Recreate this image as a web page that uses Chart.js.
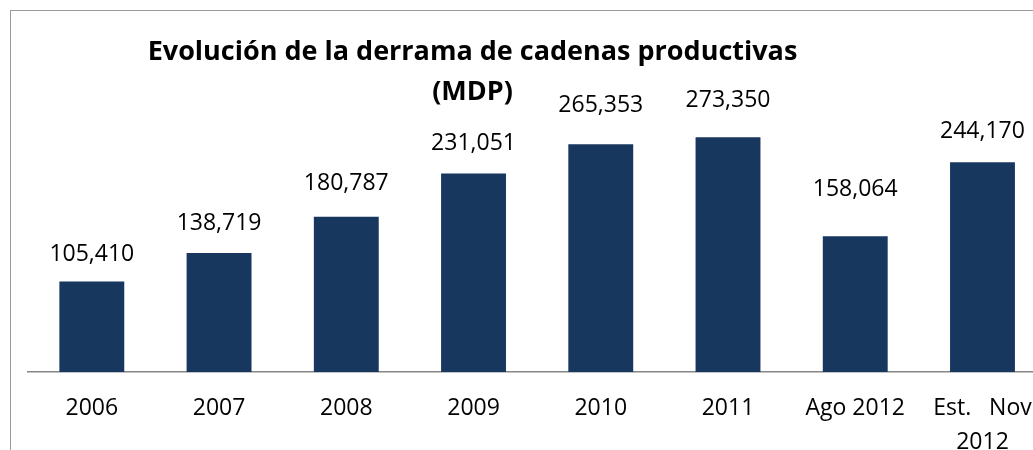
<!DOCTYPE html>
<html>
<head>
<meta charset="utf-8">
<script src="https://cdn.jsdelivr.net/npm/chart.js@4.4.1/dist/chart.umd.min.js"></script>
<style>
  html, body { margin: 0; padding: 0; background: #fff; overflow: hidden; }
  #wrap { position: relative; width: 1033px; height: 450px; overflow: hidden; }
  #frame { position: absolute; left: 10px; top: 10px; width: 1100px; height: 500px;
           border-left: 1px solid #9a9a9a; border-top: 1px solid #9a9a9a; box-sizing: border-box; }
  canvas { position: absolute; left: 0; top: 0; }
</style>
</head>
<body>
<div id="wrap">
  <div id="frame"></div>
  <canvas id="c" width="1060" height="450"></canvas>
</div>
<script>
const categories = ['2006', '2007', '2008', '2009', '2010', '2011', 'Ago 2012', ['Est.   Nov', '2012']];
const values = [105410, 138719, 180787, 231051, 265353, 273350, 158064, 244170];
const valueLabels = ['105,410', '138,719', '180,787', '231,051', '265,353', '273,350', '158,064', '244,170'];
const titleLines = ['Evolución de la derrama de cadenas productivas', '(MDP)'];

// style: how far each label sits above its bar (px)
const labelLift = [28, 30, 34, 31, 40, 38, 48, 32];

const FONT = '"Open Sans", "Liberation Sans", sans-serif';

const labelPlugin = {
  id: 'valueLabels',
  afterDatasetsDraw(chart) {
    const ctx = chart.ctx;
    const meta = chart.getDatasetMeta(0);
    ctx.save();
    ctx.font = '23px ' + FONT;
    ctx.fillStyle = '#000';
    ctx.textAlign = 'center';
    ctx.textBaseline = 'middle';
    meta.data.forEach((bar, i) => {
      ctx.fillText(valueLabels[i], bar.x, bar.y - labelLift[i] + 1);
    });
    ctx.restore();
  }
};

const titlePlugin = {
  id: 'customTitle',
  afterDraw(chart) {
    const ctx = chart.ctx;
    ctx.save();
    ctx.font = 'bold 27px ' + FONT;
    ctx.fillStyle = '#000';
    ctx.textAlign = 'center';
    ctx.textBaseline = 'middle';
    ctx.fillText(titleLines[0], 472.5, 52);
    ctx.fillText(titleLines[1], 472.5, 92);
    ctx.restore();
  }
};

new Chart(document.getElementById('c'), {
  type: 'bar',
  data: {
    labels: categories,
    datasets: [{
      data: values,
      backgroundColor: '#17375E',
      borderWidth: 0,
      barPercentage: 0.51,
      categoryPercentage: 1.0
    }]
  },
  options: {
    responsive: false,
    animation: false,
    layout: { padding: { left: 28.2, right: 13.9, top: 114.4, bottom: 0 } },
    plugins: { legend: { display: false }, title: { display: false }, tooltip: { enabled: false } },
    scales: {
      x: {
        grid: { display: false, drawTicks: false },
        border: { display: true, color: '#868686', width: 1.5 },
        ticks: {
          color: '#000',
          font: { family: FONT, size: 23, lineHeight: 1.45 },
          padding: 20,
          maxRotation: 0,
          autoSkip: false
        },
        afterFit(scale) { scale.height = 78; }
      },
      y: {
        display: false,
        min: 0,
        max: 300000
      }
    }
  },
  plugins: [labelPlugin, titlePlugin]
});
</script>
</body>
</html>
